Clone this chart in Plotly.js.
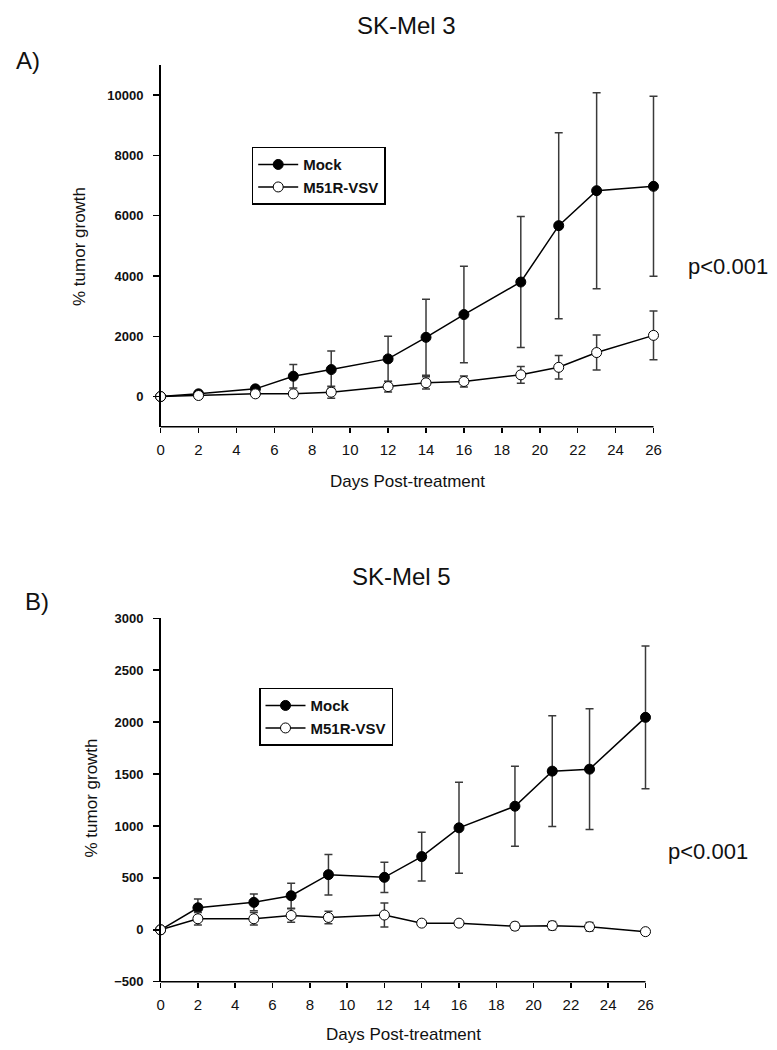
<!DOCTYPE html>
<html>
<head>
<meta charset="utf-8">
<script src="https://cdn.plot.ly/plotly-3.0.1.min.js"></script>
<style>html,body{margin:0;padding:0;background:#fff;}#chart{width:777px;height:1050px;}</style>
</head>
<body>
<div id="chart"></div>
<script>
// ---- Data ----
const days = [0, 2, 5, 7, 9, 12, 14, 16, 19, 21, 23, 26];

// Panel A: SK-Mel 3
const mel3Mock = [0, 90, 255, 675, 895, 1250, 1965, 2720, 3800, 5670, 6830, 6975];
const mel3MockErr = [0, 40, 60, 390, 620, 750, 1260, 1600, 2170, 3085, 3250, 2985];
const mel3M51R = [0, 35, 90, 90, 145, 330, 455, 500, 720, 970, 1460, 2030];
const mel3M51RErr = [0, 20, 40, 40, 200, 175, 205, 180, 280, 390, 580, 810];

// Panel B: SK-Mel 5
const mel5Mock = [0, 212, 264, 328, 531, 505, 705, 982, 1190, 1528, 1547, 2046];
const mel5MockErr = [0, 85, 80, 120, 195, 145, 235, 438, 386, 534, 581, 687];
const mel5M51R = [0, 106, 106, 138, 119, 142, 64, 64, 35, 40, 29, -18];
const mel5M51RErr = [0, 60, 60, 65, 60, 115, 20, 20, 35, 40, 40, 0];

const seriesNames = ["Mock", "M51R-VSV"];
const xTicks = [0, 2, 4, 6, 8, 10, 12, 14, 16, 18, 20, 22, 24, 26];
const yTicksA = [0, 2000, 4000, 6000, 8000, 10000];
const yTicksB = [-500, 0, 500, 1000, 1500, 2000, 2500, 3000];

// ---- Styles ----
const FONT = "Liberation Sans, Arial, Helvetica, sans-serif";
const errStyle = {type: "data", visible: true, color: "#3a3a3a", thickness: 1.5, width: 4};

function mk(y, err, name, filled, xa, ya, legend) {
  return {
    x: days, y: y, name: name, type: "scatter", mode: "lines+markers",
    xaxis: xa, yaxis: ya, legend: legend, cliponaxis: false,
    line: {color: "#000", width: 1.5},
    marker: {symbol: "circle", size: 10, color: filled ? "#000" : "#fff", line: {color: "#000", width: 1}},
    error_y: Object.assign({array: err}, errStyle)
  };
}

const traces = [
  mk(mel3Mock, mel3MockErr, seriesNames[0], true, "x", "y", "legend"),
  mk(mel3M51R, mel3M51RErr, seriesNames[1], false, "x", "y", "legend"),
  mk(mel5Mock, mel5MockErr, seriesNames[0], true, "x2", "y2", "legend2"),
  mk(mel5M51R, mel5M51RErr, seriesNames[1], false, "x2", "y2", "legend2")
];

const W = 777, H = 1050;
const px = v => v / W, py = v => 1 - v / H;
const XMAX = 26.4; // small pad so end error bars are not clipped

function xAxis(x0px, x26px, anchor) {
  const perDay = (x26px - x0px) / 26;
  return {
    domain: [px(x0px), px(x0px + perDay * XMAX)], anchor: anchor, range: [0, XMAX], tickvals: xTicks,
    showline: false,
    ticks: "outside", ticklen: 5, tickwidth: 1.5, tickcolor: "#000",
    showgrid: false, zeroline: false, ticklabelstandoff: 4,
    tickfont: {family: FONT, size: 15, color: "#111"}, fixedrange: true
  };
}
function yAxis(domain, anchor, range, vals) {
  return {
    domain: domain, anchor: anchor, range: range, tickvals: vals, tickformat: "d",
    showline: true, linecolor: "#000", linewidth: 1.5,
    ticks: "outside", ticklen: 6, tickwidth: 1.5, tickcolor: "#000",
    showgrid: false, zeroline: false, ticklabelstandoff: 7,
    tickfont: {family: FONT, size: 13, color: "#111", weight: "bold"}, fixedrange: true
  };
}

const legendStyle = {
  bgcolor: "#fff", bordercolor: "#000", borderwidth: 1.5, itemwidth: 40,
  font: {family: FONT, size: 15, color: "#111", weight: "bold"},
  xanchor: "left", yanchor: "top", itemclick: false, itemdoubleclick: false
};

function ann(text, x, y, size, extra) {
  return Object.assign({text: text, x: x, y: y, xref: "paper", yref: "paper",
    xanchor: "center", yanchor: "middle",
    showarrow: false, font: {family: FONT, size: size, color: "#111"}}, extra || {});
}

function axisLine(xref, yref) {
  return {type: "line", xref: xref, yref: yref + " domain", x0: 0, x1: 26, y0: 0, y1: 0,
    line: {color: "#000", width: 1.5}};
}

const layout = {
  width: W, height: H, margin: {l: 0, r: 0, t: 0, b: 0},
  paper_bgcolor: "#fff", plot_bgcolor: "#fff", showlegend: true,
  xaxis: xAxis(160.6, 653.5, "y"),
  yaxis: yAxis([py(426.7), py(65)], "x", [-1000, 11000], yTicksA),
  xaxis2: xAxis(160.6, 645.5, "y2"),
  yaxis2: yAxis([py(981.7), py(618.3)], "x2", [-500, 3000], yTicksB),
  legend: Object.assign({x: px(251.7), y: py(146.7)}, legendStyle),
  legend2: Object.assign({x: px(259), y: py(687.7)}, legendStyle),
  shapes: [axisLine("x", "y"), axisLine("x2", "y2")],
  annotations: [
    ann("SK-Mel 3", px(406), py(25), 24),
    ann("A)", px(28), py(60), 24),
    ann("p&lt;0.001", px(686), py(266.7), 22, {xanchor: "left"}),
    ann("% tumor growth", px(79), py(247), 17, {textangle: -90}),
    ann("Days Post-treatment", px(407.5), py(481.7), 17),
    ann("SK-Mel 5", px(401), py(576.7), 24),
    ann("B)", px(37), py(601.7), 24),
    ann("p&lt;0.001", px(665.7), py(851.7), 22, {xanchor: "left"}),
    ann("% tumor growth", px(91), py(798.5), 17, {textangle: -90}),
    ann("Days Post-treatment", px(403), py(1034.3), 17)
  ]
};

Plotly.newPlot("chart", traces, layout, {displayModeBar: false, staticPlot: true});
</script>
</body>
</html>
